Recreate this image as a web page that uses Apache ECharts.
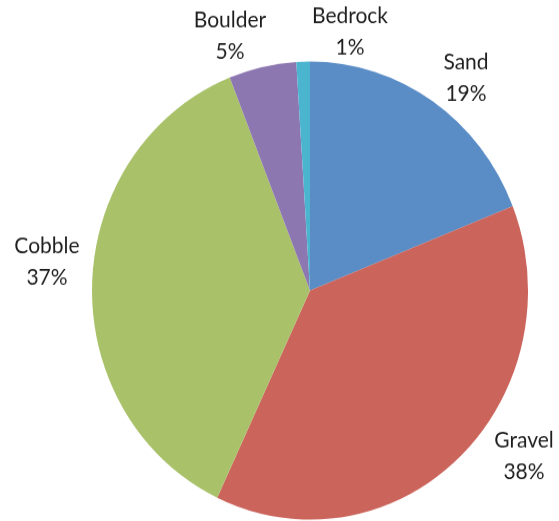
<!DOCTYPE html>
<html>
<head>
<meta charset="utf-8">
<script src="https://cdn.jsdelivr.net/npm/echarts@6/dist/echarts.min.js"></script>
<style>
  html, body { margin: 0; padding: 0; background: #fff; height: 521px; }
  /* the source picture is slightly stretched vertically */
  #piechart { width: 559px; height: 496px; transform: scaleY(1.0506); transform-origin: 0 0; }
</style>
</head>
<body>
<div id="piechart"></div>
<script>
// 饼图 - 河床底质组成
const categories = ["Sand", "Gravel", "Cobble", "Boulder", "Bedrock"];
const values = [19, 38, 37, 5, 1];
const colors = ["#5A8DC6", "#CB645B", "#A9C26A", "#8D77B1", "#4BB5CF"];
// label block centres (px, before stretch)
const labelPos = [[466, 74], [524, 434], [47, 249], [230, 34], [350, 30]];

const chart = echarts.init(document.getElementById("piechart"));
chart.setOption({
  backgroundColor: "#fff",
  animation: false,
  series: [
    {
      type: "pie",
      center: [310, 276.5],
      radius: 218,
      startAngle: 90,
      clockwise: true,
      data: categories.map((name, i) => ({
        name: name,
        value: values[i],
        itemStyle: { color: colors[i] }
      })),
      label: {
        show: true,
        position: "outside",
        formatter: "{b}\n{c}%",
        fontFamily: "Lato",
        fontSize: 21,
        lineHeight: 29.5,
        color: "#1f1f1f",
        align: "center",
        overflow: "none"
      },
      labelLine: { show: false },
      labelLayout: function (p) {
        const pos = labelPos[p.dataIndex];
        return { x: pos[0], y: pos[1], align: "center", verticalAlign: "middle" };
      },
      emphasis: { disabled: true }
    }
  ]
});
</script>
</body>
</html>
